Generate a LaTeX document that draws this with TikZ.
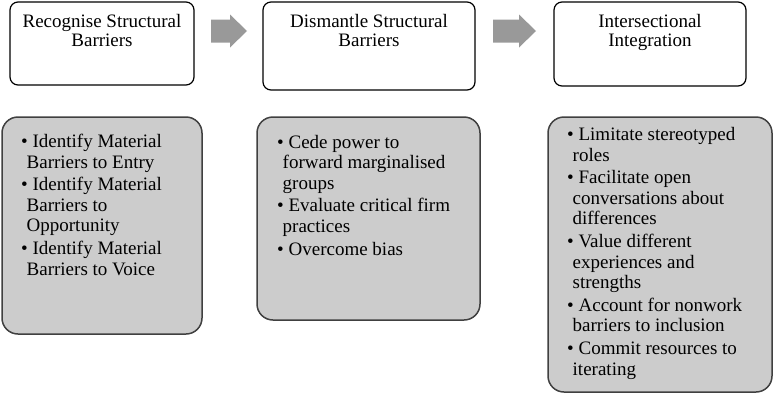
\documentclass[tikz,border=0pt]{standalone}
\usepackage{fontspec}
\setmainfont{Liberation Serif}
\usepackage{tikz}

% line break with the hanging indent of a bullet item
\newcommand{\cont}{\\\hspace*{5.5pt}}
\newcommand{\nxt}{\\[2.2pt]\textbullet\ }

\begin{document}
\begin{tikzpicture}[x=1pt, y=-1pt,
    topbox/.style={draw=black, line width=1.2pt, rounded corners=8pt},
    listbox/.style={draw=black!75, fill=black!20, line width=1.5pt, rounded corners=16pt},
    blockarrow/.style={fill=black!40},
    toptext/.style={anchor=base, align=center, inner sep=0pt,
        font=\fontsize{19}{19.5}\selectfont},
    listtext/.style={anchor=base west, align=left, inner sep=0pt,
        font=\fontsize{19}{20.5}\selectfont}]

    % Canvas
    \useasboundingbox (0,0) rectangle (773,394);

    % Top boxes (text placed by its last baseline)
    \draw[topbox] (10,2) rectangle (194,85);
    \draw[topbox] (263,2) rectangle (475,90);
    \draw[topbox] (554,2) rectangle (746,86);
    \node[toptext] (recognise) at (102,46.5) {Recognise Structural\\Barriers};
    \node[toptext] (dismantle) at (369,46.5) {Dismantle Structural\\Barriers};
    \node[toptext] (integrate) at (650,46.5) {Intersectional\\Integration};

    % Block arrows between the top boxes
    \fill[blockarrow] (211,19.5) -- (230,19.5) -- (230,14.5) -- (247,31)
        -- (230,47.5) -- (230,42.5) -- (211,42.5) -- cycle;
    \fill[blockarrow] (493,19.5) -- (519,19.5) -- (519,14.5) -- (536,31)
        -- (519,47.5) -- (519,42.5) -- (493,42.5) -- cycle;

    % Grey lists (text placed by its last baseline)
    \draw[listbox] (2,117) rectangle (202,334);
    \draw[listbox] (257,117) rectangle (480,320);
    \draw[listbox] (548,117) rectangle (772,392);

    \node[listtext] (barriers) at (21,275) {\textbullet\ Identify Material\cont Barriers to Entry%
        \nxt Identify Material\cont Barriers to\cont Opportunity%
        \nxt Identify Material\cont Barriers to Voice};
    \node[listtext] (actions) at (277,255) {\textbullet\ Cede power to\cont forward marginalised\cont groups%
        \nxt Evaluate critical firm\cont practices%
        \nxt Overcome bias};
    \node[listtext] (practices) at (567,375) {\textbullet\ Limitate stereotyped\cont roles%
        \nxt Facilitate open\cont conversations about\cont differences%
        \nxt Value different\cont experiences and\cont strengths%
        \nxt Account for nonwork\cont barriers to inclusion%
        \nxt Commit resources to\cont iterating};

\end{tikzpicture}
\end{document}
